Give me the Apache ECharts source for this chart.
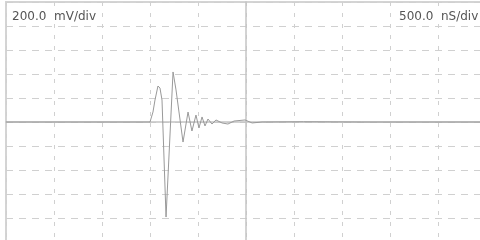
<!DOCTYPE html>
<html>
<head>
<meta charset="utf-8">
<style>
  html, body { margin: 0; padding: 0; background: #fff; }
  #main { width: 480px; height: 240px; }
</style>
<script src="https://cdn.jsdelivr.net/npm/echarts@6/dist/echarts.min.js"></script>
</head>
<body>
<div id="main"></div>
<script>
// time in ns, voltage in mV (500 ns/div, 200 mV/div)
var timeNs = [-2500, -1500, -1000, -969, -948, -917, -896, -875, -833, -760, -729, -656,
              -604, -563, -521, -490, -458, -427, -396, -354, -313, -250, -188, -125,
              -10, 63, 167, 600, 1200, 2500];
var voltMv = [0, 0, 0, 83, 183, 300, 283, 183, -792, 417, 267, -167,
              83, -75, 58, -50, 42, -33, 25, -17, 17, -8, -17, 8,
              17, -8, 0, 2, 0, 0];
var voltLabel = '200.0  mV/div';
var timeLabel = '500.0  nS/div';

var points = [];
for (var i = 0; i < timeNs.length; i++) {
	points.push([timeNs[i], voltMv[i]]);
}

var myChart = echarts.init(document.getElementById('main'));
var option = {
	animation: false,
	grid: {
		left: 6,
		top: 2,
		width: 480,
		height: 240,
		outerBoundsMode: 'none',
		containLabel: false,
		show: true,
		borderColor: '#d4d4d4',
		borderWidth: 2
	},
	xAxis: {
		type: 'value',
		min: -2500,
		max: 2500,
		interval: 500,
		axisLabel: { show: false },
		axisTick: { show: false },
		axisLine: { show: true, onZero: true, lineStyle: { color: '#c4c4c4', width: 1.5 } },
		splitLine: { show: true, lineStyle: { color: '#d0d0d0', type: [4, 7], width: 1 } }
	},
	yAxis: {
		type: 'value',
		min: -1000,
		max: 1000,
		interval: 200,
		axisLabel: { show: false },
		axisTick: { show: false },
		axisLine: { show: true, onZero: true, lineStyle: { color: '#c4c4c4', width: 1.5 } },
		splitLine: { show: true, lineStyle: { color: '#d0d0d0', type: [7, 6], width: 1 } }
	},
	graphic: [
		{
			type: 'text', left: 11, top: 10, z: 100,
			style: { text: voltLabel, fill: '#555', font: '12px "DejaVu Sans", sans-serif',
				backgroundColor: '#fff', padding: [1, 1] }
		},
		{
			type: 'text', left: 398, top: 10, z: 100,
			style: { text: timeLabel, fill: '#555', font: '12px "DejaVu Sans", sans-serif',
				backgroundColor: '#fff', padding: [1, 1] }
		}
	],
	series: [
		{
			type: 'line',
			data: points,
			symbol: 'none',
			lineStyle: { color: '#999', width: 1 }
		}
	]
};
myChart.setOption(option);
</script>
</body>
</html>
